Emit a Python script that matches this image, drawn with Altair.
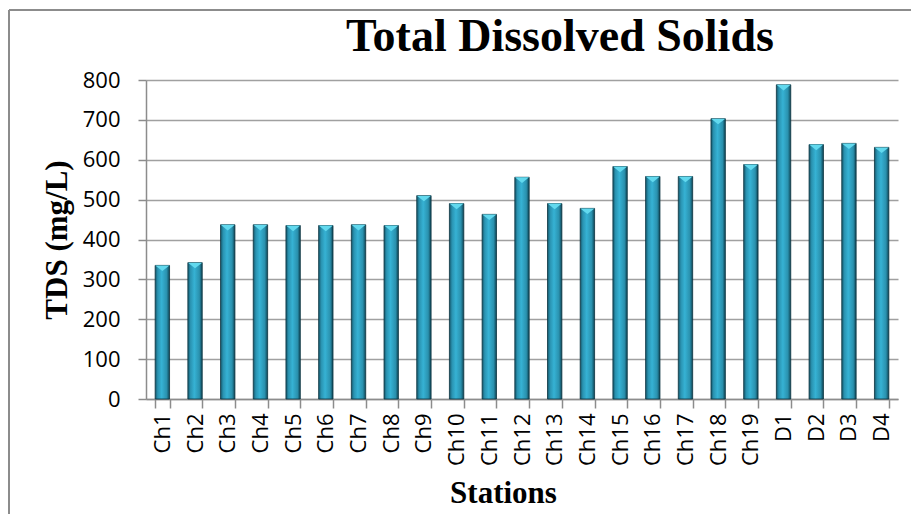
import altair as alt
import pandas as pd

# Stations along the channel (Ch) and drains (D)
stations = ["Ch1", "Ch2", "Ch3", "Ch4", "Ch5", "Ch6", "Ch7", "Ch8", "Ch9", "Ch10",
            "Ch11", "Ch12", "Ch13", "Ch14", "Ch15", "Ch16", "Ch17", "Ch18", "Ch19",
            "D1", "D2", "D3", "D4"]
# Total dissolved solids, mg/L
tds = [335, 342, 437, 437, 435, 435, 437, 435, 510, 490,
       463, 556, 490, 478, 583, 558, 558, 703, 588,
       788, 638, 641, 631]
y_ticks = [0, 100, 200, 300, 400, 500, 600, 700, 800]
chart_title = "Total Dissolved Solids"

df = pd.DataFrame({"station": stations, "tds": tds})

PLOT_W, PLOT_H = 752, 319
PAD_L, PAD_T = 146, 80

x_scale = alt.Scale(paddingInner=0.56, paddingOuter=0.28)
y_scale = alt.Scale(domain=[0, 800], nice=False)

x_enc = alt.X(
    "station:N",
    sort=stations,
    scale=x_scale,
    axis=alt.Axis(
        title="Stations",
        titleFont="Liberation Serif",
        titleFontWeight="bold",
        titleFontSize=31,
        titleColor="#000000",
        titleX=357,
        titleY=103,
        titleBaseline="alphabetic",
        labelAngle=-90,
        labelAlign="right",
        labelBaseline="middle",
        labelFont="Open Sans",
        labelFontSize=22,
        labelColor="#000000",
        labelPadding=5,
        labelOverlap=False,
        tickBand="extent",
        tickSize=9,
        tickColor="#8c8c8c",
        tickWidth=1.5,
        domainColor="#8c8c8c",
        domainWidth=1.5,
        grid=False,
    ),
)

y_enc = alt.Y(
    "tds:Q",
    scale=y_scale,
    axis=alt.Axis(
        values=y_ticks,
        title="TDS (mg/L)",
        titleFont="Liberation Serif",
        titleFontWeight="bold",
        titleFontSize=31,
        titleColor="#000000",
        titleAngle=-90,
        titleX=-89,
        titleBaseline="middle",
        labelFont="Open Sans",
        labelFontSize=22,
        labelColor="#000000",
        labelPadding=18,
        labelOverlap=False,
        tickSize=8,
        tickColor="#8c8c8c",
        tickWidth=1.5,
        domainColor="#8c8c8c",
        domainWidth=1.5,
        gridColor="#a0a0a0",
        gridWidth=1.5,
    ),
)

bar_fill = alt.Gradient(
    gradient="linear",
    x1=0, x2=1, y1=0, y2=0,
    stops=[
        alt.GradientStop(offset=0.0, color="#14566a"),
        alt.GradientStop(offset=0.18, color="#2a93b1"),
        alt.GradientStop(offset=0.45, color="#36b2d4"),
        alt.GradientStop(offset=0.8, color="#2a91ae"),
        alt.GradientStop(offset=1.0, color="#0e4454"),
    ],
)

bars = alt.Chart(df).mark_bar(
    fill=bar_fill, stroke="#0b3440", strokeWidth=0.8
).encode(x=x_enc, y=y_enc)

# bevelled cap on each bar top
caps = alt.Chart(df).mark_point(
    shape="M-1,0 L1,0 L0,0.8 Z",
    filled=True,
    fill="#62d9ee",
    opacity=1,
    size=200,
).encode(x=x_enc, y=y_enc)

# outer chart frame and heading
single = alt.Data(values=[{}])
frame_left = alt.Chart(single).mark_rule(color="#8c8c8c", strokeWidth=2).encode(
    x=alt.value(9 - PAD_L), y=alt.value(10 - PAD_T), y2=alt.value(520 - PAD_T)
)
frame_top = alt.Chart(single).mark_rule(color="#8c8c8c", strokeWidth=2).encode(
    x=alt.value(9 - PAD_L), x2=alt.value(920 - PAD_L), y=alt.value(10 - PAD_T)
)
heading = alt.Chart(single).mark_text(
    text=chart_title,
    font="Liberation Serif",
    fontWeight="bold",
    fontSize=46,
    color="#000000",
    align="center",
    baseline="alphabetic",
).encode(x=alt.value(560 - PAD_L), y=alt.value(51 - PAD_T))

chart = alt.layer(bars, caps, frame_left, frame_top, heading).properties(
    width=PLOT_W,
    height=PLOT_H,
    autosize=alt.AutoSizeParams(type="none"),
    padding={"left": PAD_L, "top": PAD_T, "right": 911 - PAD_L - PLOT_W, "bottom": 514 - PAD_T - PLOT_H},
    background="#ffffff",
).configure_view(stroke=None)

chart.save("out.html", embed_options={"renderer": "svg", "actions": False})
